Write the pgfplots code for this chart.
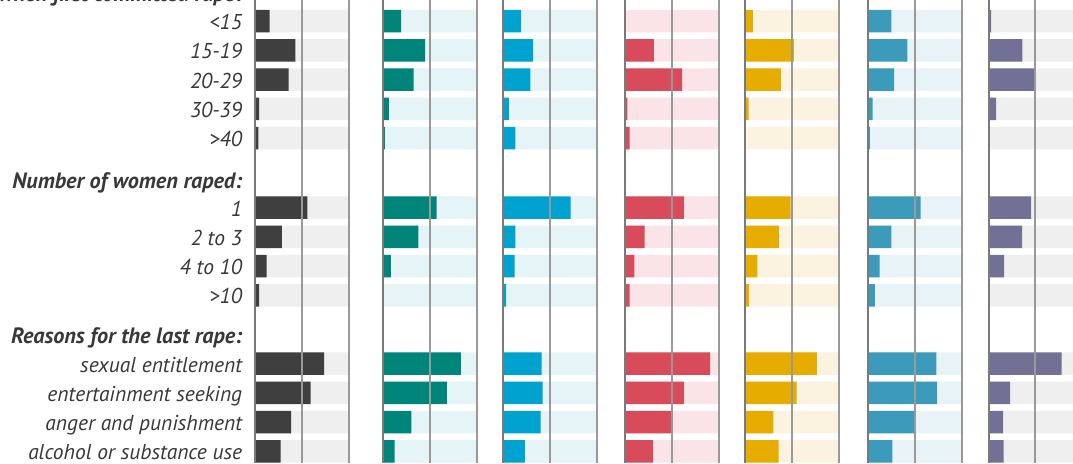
\documentclass[border=0pt]{standalone}
\usepackage{fontspec}
\setmainfont{PT Sans}
\usepackage{pgfplots}
\pgfplotsset{compat=1.18}
\usepackage{pgfplotstable}

\definecolor{txt}{HTML}{383838}
\definecolor{zline}{HTML}{7A7A7A}
\definecolor{gline}{HTML}{999999}
\definecolor{cA}{HTML}{3F3F3F}\definecolor{bA}{HTML}{EFEFEF}
\definecolor{cB}{HTML}{00857A}\definecolor{bB}{HTML}{E5F5F7}
\definecolor{cC}{HTML}{00A2D0}\definecolor{bC}{HTML}{E5F5F7}
\definecolor{cD}{HTML}{D74B5A}\definecolor{bD}{HTML}{FBE4E7}
\definecolor{cE}{HTML}{E6AC00}\definecolor{bE}{HTML}{FBF2E0}
\definecolor{cF}{HTML}{3C9ABA}\definecolor{bF}{HTML}{E8F3F7}
\definecolor{cG}{HTML}{717196}\definecolor{bG}{HTML}{EFEFF0}

% pos = row position (0 = top row), values in % of each group
\pgfplotstableread{
pos   full a    b    c   d    e    f    g
0     100  15   19   19  0.3  8    25   2.5
1     100  42.6 44.6 32  31   52   42   36
2     100  35.5 32.5 29  61   38   28   49
3     100  4    6    6   2.5  3.6  5    8
4     100  3    1.8  13  5    0.3  2    1
6.38  100  55.4 57   72  63   48.4 56.4 45.4
7.38  100  28.3 37.5 13  21   36   25   35.7
8.38  100  12   8    12  10   13   12.4 16.4
9.38  100  4    0.5  3   5    4    7.4  0.7
11.71 100  73.3 83   41  91   76.5 73   78
12.71 100  59   68   42  63   55   74   23
13.71 100  38   30   40  51   30   50.4 15.4
14.71 100  27   12   23  30   35.6 26   16
}\data

\pgfplotsset{
  panel/.style={
    scale only axis, width=46.75pt, height=231.5pt, anchor=south west,
    xmin=0, xmax=100, ymin=-0.718, ymax=15.111, y dir=reverse,
    xbar, bar width=0.77, bar shift=0pt,
    xtick={50,100}, xticklabels={}, ytick=\empty,
    extra x ticks={0}, extra x tick labels={},
    xmajorgrids, major grid style={line width=1pt, color=gline},
    extra x tick style={major grid style={line width=1pt, color=zline}},
    axis line style={draw=none}, major tick length=0pt,
    axis on top, clip=false,
  },
}
\tikzset{
  lab/.style={anchor=base east, inner sep=0pt, xshift=-6.5pt, yshift=-4.25pt,
    font=\fontsize{10.75}{12}\selectfont\itshape, text=txt},
  head/.style={lab, font=\fontsize{11.1}{12}\selectfont\bfseries\itshape},
}

\begin{document}
\begin{tikzpicture}
\path[use as bounding box, clip] (0,0) rectangle (536.5pt,231.5pt);

\begin{axis}[panel, at={(127.75pt,0pt)}]
\addplot[fill=bA, draw=none] table[x=full,y=pos]{\data};
\addplot[fill=cA, draw=none] table[x=a,y=pos]{\data};
\node[head] at (axis cs:0,-0.95) {Age when first committed rape:};
\node[lab] at (axis cs:0,0) {<15};
\node[lab] at (axis cs:0,1) {15-19};
\node[lab] at (axis cs:0,2) {20-29};
\node[lab] at (axis cs:0,3) {30-39};
\node[lab] at (axis cs:0,4) {>40};
\node[head] at (axis cs:0,5.45) {Number of women raped:};
\node[lab] at (axis cs:0,6.38) {1};
\node[lab] at (axis cs:0,7.38) {2 to 3};
\node[lab] at (axis cs:0,8.38) {4 to 10};
\node[lab] at (axis cs:0,9.38) {>10};
\node[head] at (axis cs:0,10.72) {Reasons for the last rape:};
\node[lab] at (axis cs:0,11.71) {sexual entitlement};
\node[lab] at (axis cs:0,12.71) {entertainment seeking};
\node[lab] at (axis cs:0,13.71) {anger and punishment};
\node[lab] at (axis cs:0,14.71) {alcohol or substance use};
\end{axis}

\begin{axis}[panel, at={(191.65pt,0pt)}]
\addplot[fill=bB, draw=none] table[x=full,y=pos]{\data};
\addplot[fill=cB, draw=none] table[x=b,y=pos]{\data};
\end{axis}

\begin{axis}[panel, at={(251.65pt,0pt)}]
\addplot[fill=bC, draw=none] table[x=full,y=pos]{\data};
\addplot[fill=cC, draw=none] table[x=c,y=pos]{\data};
\end{axis}

\begin{axis}[panel, at={(312.5pt,0pt)}]
\addplot[fill=bD, draw=none] table[x=full,y=pos]{\data};
\addplot[fill=cD, draw=none] table[x=d,y=pos]{\data};
\end{axis}

\begin{axis}[panel, at={(372.65pt,0pt)}]
\addplot[fill=bE, draw=none] table[x=full,y=pos]{\data};
\addplot[fill=cE, draw=none] table[x=e,y=pos]{\data};
\end{axis}

\begin{axis}[panel, at={(434pt,0pt)}]
\addplot[fill=bF, draw=none] table[x=full,y=pos]{\data};
\addplot[fill=cF, draw=none] table[x=f,y=pos]{\data};
\end{axis}

\begin{axis}[panel, at={(494.35pt,0pt)}]
\addplot[fill=bG, draw=none] table[x=full,y=pos]{\data};
\addplot[fill=cG, draw=none] table[x=g,y=pos]{\data};
\end{axis}
\end{tikzpicture}
\end{document}
